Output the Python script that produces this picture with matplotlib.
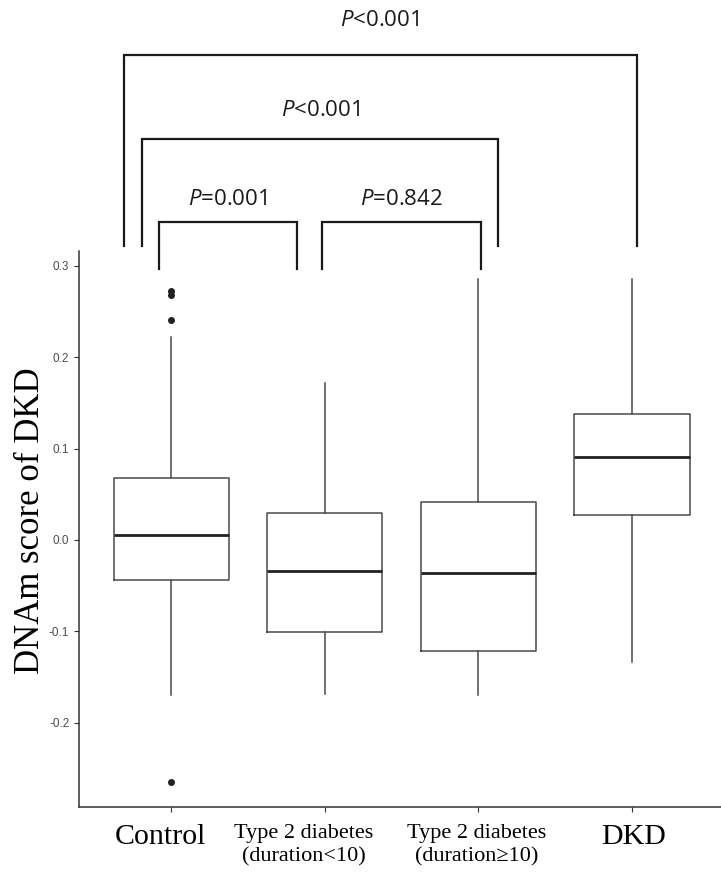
import matplotlib
matplotlib.use("Agg")
import matplotlib.pyplot as plt

# box statistics
groups = ["Control", "Type 2 diabetes\n(duration<10)", "Type 2 diabetes\n(duration\u226510)", "DKD"]
whisker_lo = [-0.170, -0.168, -0.170, -0.133]
q1 = [-0.044, -0.101, -0.121, 0.027]
median = [0.005, -0.034, -0.036, 0.091]
q3 = [0.068, 0.030, 0.041, 0.138]
whisker_hi = [0.222, 0.172, 0.285, 0.285]
outliers = [[0.272, 0.268, 0.241, -0.265], [], [], []]

# comparison brackets: left x, right x (category units), bar height, leg bottom, label height, label
br_left = [-0.31, -0.19, -0.08, 0.98]
br_right = [3.03, 2.13, 0.82, 2.02]
br_top = [0.530, 0.439, 0.3475, 0.3475]
br_foot = [0.321, 0.321, 0.296, 0.296]
br_text_y = [0.568, 0.470, 0.372, 0.372]
br_label = ["$\\mathit{P}$<0.001", "$\\mathit{P}$<0.001", "$\\mathit{P}$=0.001", "$\\mathit{P}$=0.842"]

plt.rcParams["mathtext.fontset"] = "custom"
plt.rcParams["mathtext.it"] = "Open Sans:italic"
plt.rcParams["mathtext.rm"] = "Open Sans"

fig = plt.figure(figsize=(7.21, 8.74), dpi=100)
ax = fig.add_axes([0.1096, 0.0767, 0.8904, 0.6361])

stats = []
for i in range(len(groups)):
    stats.append(dict(med=median[i], q1=q1[i], q3=q3[i],
                      whislo=whisker_lo[i], whishi=whisker_hi[i],
                      fliers=outliers[i]))

edge = "#4a4a4a"
ax.bxp(stats, positions=range(len(groups)), widths=0.75, showcaps=False,
       boxprops=dict(color=edge, linewidth=1.1),
       whiskerprops=dict(color=edge, linewidth=1.1),
       medianprops=dict(color="#222222", linewidth=2.0),
       flierprops=dict(marker="o", markersize=4, markerfacecolor="#222222",
                       markeredgecolor="#222222"))

ax.set_xlim(-0.6, 3.58)
ax.set_ylim(-0.292, 0.316)
ax.set_yticks([-0.2, -0.1, 0.0, 0.1, 0.2, 0.3])
ax.set_yticklabels(["-0.2", "-0.1", "0.0", "0.1", "0.2", "0.3"],
                   family="Liberation Sans", fontsize=8.5, color="#4d4d4d")
ax.set_xticks(range(len(groups)))
ax.set_xticklabels([])
ax.tick_params(axis="both", color="#333333", length=3.5, width=0.8)

# category names, a little off their ticks as in the original
for i, (name, fs, dx) in enumerate(zip(groups, [21.5, 16, 16, 21.5], [-8, -15, -1, 1.5])):
    ax.annotate(name, xy=(i, 0), xycoords=("data", "axes fraction"),
                xytext=(dx, -12), textcoords="offset points", ha="center", va="top",
                family="Liberation Serif", fontsize=fs, linespacing=1.3,
                annotation_clip=False)

ax.set_ylabel("DNAm score of DKD", family="Liberation Serif", fontsize=25)
ax.yaxis.set_label_coords(-0.05, 0.515)

for s in ["top", "right"]:
    ax.spines[s].set_visible(False)
for s in ["left", "bottom"]:
    ax.spines[s].set_color("#333333")
    ax.spines[s].set_linewidth(1.1)

for x1, x2, yt, yf, ty, lab in zip(br_left, br_right, br_top, br_foot, br_text_y, br_label):
    ax.plot([x1, x1, x2, x2], [yf, yt, yt, yf], color="#1a1a1a", lw=1.6,
            clip_on=False, solid_joinstyle="miter")
    ax.text((x1 + x2) / 2, ty, lab, ha="center", va="center",
            family="Open Sans", fontsize=16, color="#1a1a1a")

fig.savefig("out.png", dpi=100)
